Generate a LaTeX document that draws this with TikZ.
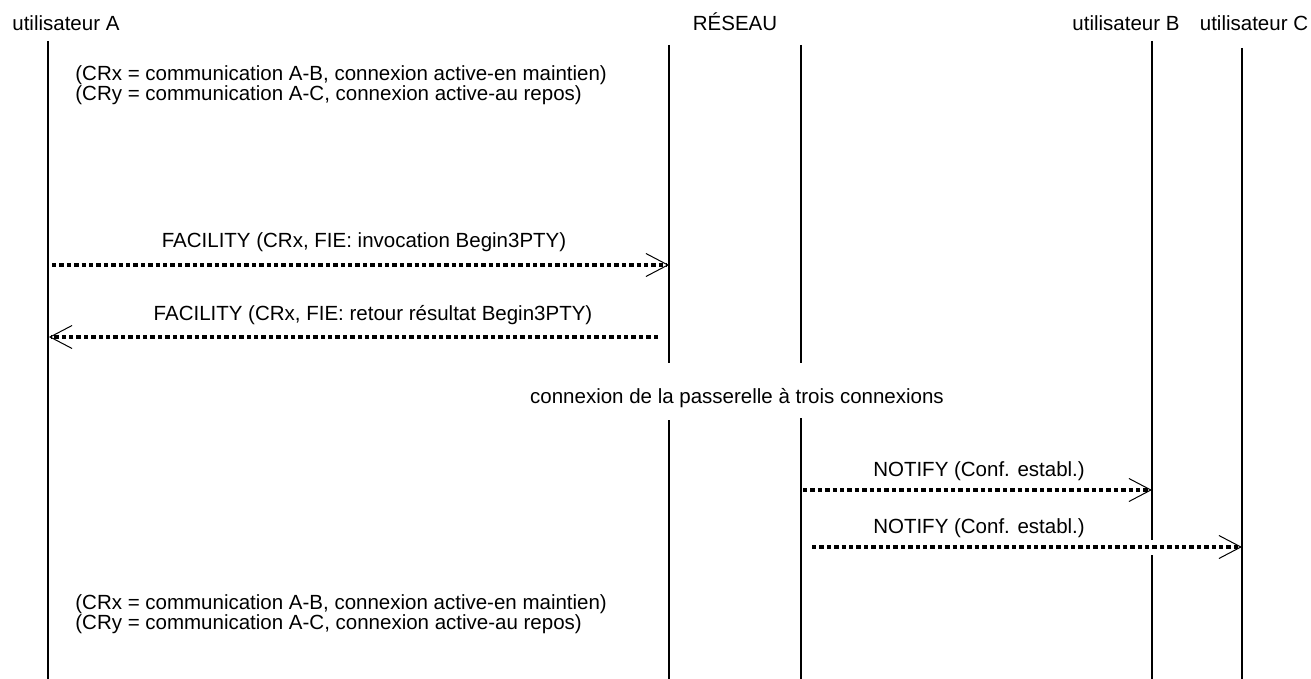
\documentclass[tikz,border=0pt]{standalone}
\usepackage{fontspec}
\setmainfont{Liberation Sans}
\usetikzlibrary{arrows.meta}

\begin{document}
\begin{tikzpicture}[x=0.5pt, y=-0.5pt,
		every node/.style={font=\fontsize{10.25}{12.5}\selectfont, inner sep=0pt, anchor=base},
		lifeline/.style={line width=0.75pt},
		msg/.style={line width=1.75pt, dash pattern=on 2.2pt off 1.5pt, -{Straight Barb[length=11pt, width=11.5pt, line width=0.5pt]}}]
			%%%%% START %%%%%
			
			\useasboundingbox (0, 0) rectangle (1311, 679);
			
			\node[anchor=base west] (userA) at (12, 31) {utilisateur A};
			\node (reseau) at (735, 31) {RÉSEAU};
			\node (userB) at (1126, 31) {utilisateur B};
			\node (userC) at (1254, 31) {utilisateur C};
			
			\draw[lifeline] (48, 41) -- (48, 679);
			\draw[lifeline] (669, 45) -- (669, 363);
			\draw[lifeline] (669, 420) -- (669, 679);
			\draw[lifeline] (801, 45) -- (801, 363);
			\draw[lifeline] (801, 418) -- (801, 679);
			\draw[lifeline] (1152, 41) -- (1152, 540);
			\draw[lifeline] (1152, 555) -- (1152, 679);
			\draw[lifeline] (1242, 48) -- (1242, 679);
			
			\node[anchor=base west] (noteCRx) at (75, 81) {(CRx = communication A-B, connexion active-en maintien)};
			\node[anchor=base west] (noteCRy) at (75, 101) {(CRy = communication A-C, connexion active-au repos)};
			
			\coordinate (a1) at (52, 265);
			\coordinate (r1) at (669, 265);
			\node (facInv) at (364, 248) {FACILITY (CRx, FIE: invocation Begin3PTY)};
			\draw[msg] (a1) -- (r1);
			
			\coordinate (r2) at (658, 337);
			\coordinate (a2) at (49, 337);
			\node (facRes) at (373, 320) {FACILITY (CRx, FIE: retour résultat Begin3PTY)};
			\draw[msg] (r2) -- (a2);
			
			\node (passerelle) at (737, 403) {connexion de la passerelle à trois connexions};
			
			\coordinate (r3) at (803, 490);
			\coordinate (b3) at (1152, 490);
			\node (notifB) at (979, 476) {NOTIFY (Conf. establ.)};
			\draw[msg] (r3) -- (b3);
			
			\coordinate (r4) at (812, 547);
			\coordinate (c4) at (1242, 547);
			\node (notifC) at (979, 533) {NOTIFY (Conf. establ.)};
			\draw[msg] (r4) -- (c4);
			
			\node[anchor=base west] (noteCRx2) at (75, 609) {(CRx = communication A-B, connexion active-en maintien)};
			\node[anchor=base west] (noteCRy2) at (75, 629) {(CRy = communication A-C, connexion active-au repos)};
			
			%%%%% END %%%%%
		\end{tikzpicture}
\end{document}
